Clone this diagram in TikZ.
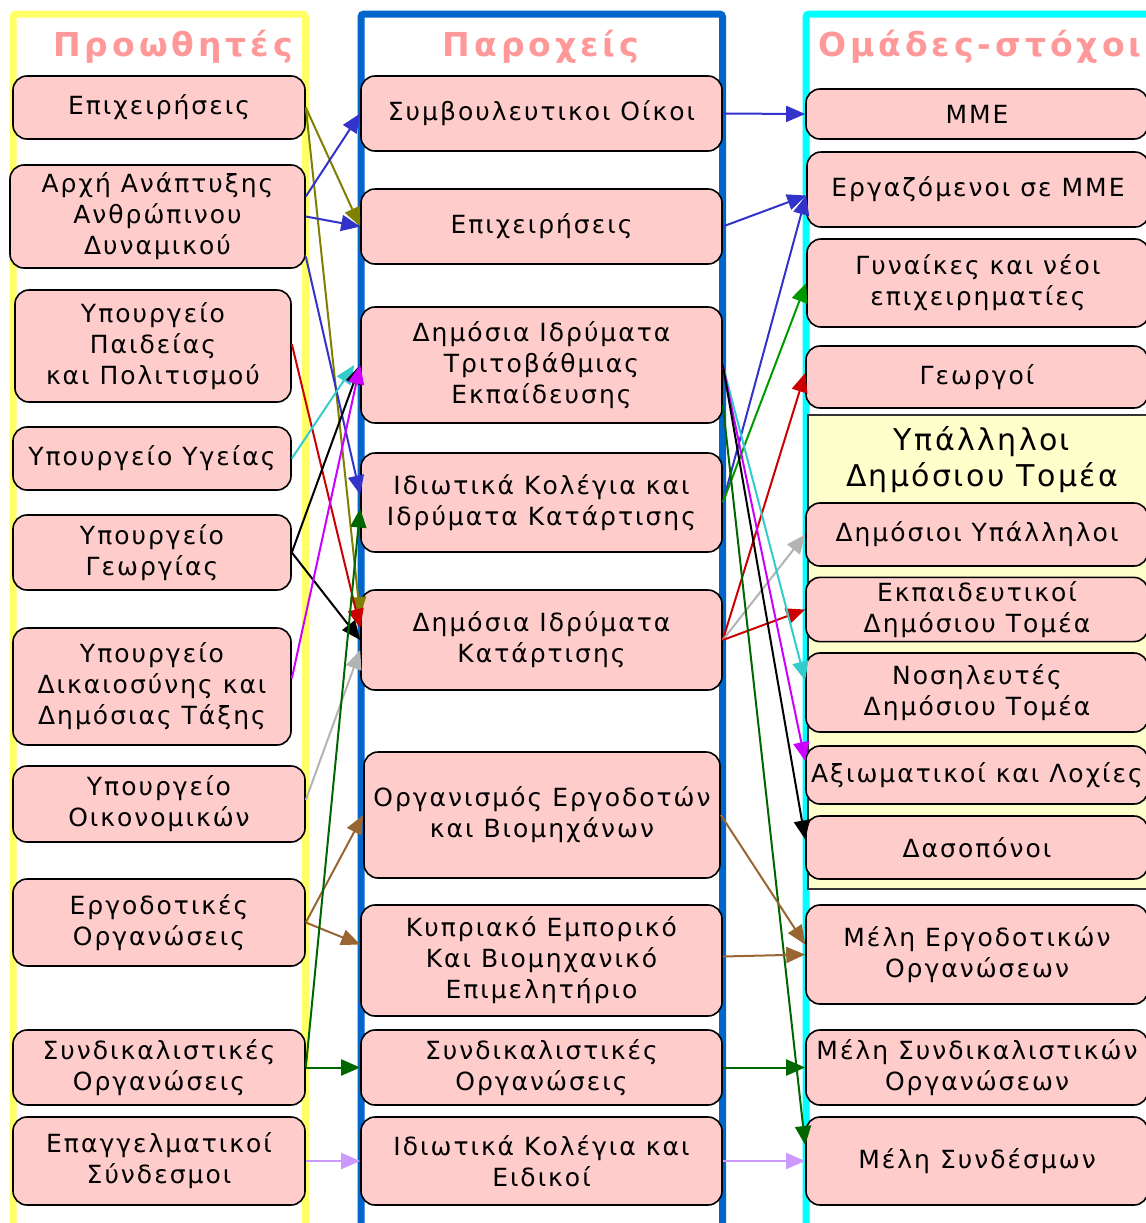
\documentclass[tikz,border=0pt]{standalone}
\usepackage{fontspec}
\setmainfont{DejaVu Sans}[LetterSpace=8]
\newfontfamily\titlefont{DejaVu Sans}[LetterSpace=12]
\usetikzlibrary{arrows.meta, positioning}

\definecolor{boxpink}{HTML}{FFCCCC}
\definecolor{groupyellow}{HTML}{FFFFCC}
\definecolor{titlepink}{HTML}{FF9999}
\definecolor{frameyellow}{HTML}{FFFF66}
\definecolor{frameblue}{HTML}{0066CC}
\definecolor{framecyan}{HTML}{00FFFF}
\definecolor{arrowolive}{HTML}{808000}
\definecolor{arrowblue}{HTML}{3333CC}
\definecolor{arrowred}{HTML}{CC0000}
\definecolor{arrowcyan}{HTML}{33CCCC}
\definecolor{arrowmagenta}{HTML}{CC00FF}
\definecolor{arrowgray}{HTML}{B3B3B3}
\definecolor{arrowbrown}{HTML}{996633}
\definecolor{arrowdkgreen}{HTML}{006600}
\definecolor{arrowgreen}{HTML}{009900}
\definecolor{arrowlilac}{HTML}{CC99FF}

\begin{document}
\begin{tikzpicture} [x=0.5pt, y=-0.5pt,
            box/.style = {draw, fill=boxpink, rounded corners=7pt,
                line width=0.8pt, align=center, inner sep=2pt,
                font=\fontsize{12.5}{15.5}\selectfont},
            lbox/.style = {box, minimum width=146pt},
            mbox/.style = {box, minimum width=180.5pt},
            rbox/.style = {box, minimum width=171pt},
            coltitle/.style = {text=titlepink,
                font=\titlefont\bfseries\fontsize{16.5}{19}\selectfont},
            frame/.style = {line width=3.5pt, rounded corners=1.5pt}]

        \useasboundingbox (0,0) rectangle (1146,1223);
        \clip (0,0) rectangle (1146,1223);

        % Column frames
        \draw [frame, frameyellow] (13,14) rectangle (305.5,1260);
        \draw [frame, frameblue] (361,14) rectangle (722.5,1260);
        \draw [frame, framecyan] (806,14) rectangle (1180,1260);

        % Column titles
        \node (tleft) [coltitle] at (173,47) {Προωθητές};
        \node (tmid) [coltitle] at (541,47) {Παροχείς};
        \node (tright) [coltitle] at (980,47) {Ομάδες-στόχοι};

        % Promoters
        \node (l1) [lbox, minimum height=31.5pt] at (159,107.5) {Επιχειρήσεις};
        \node (l2) [lbox, minimum width=147.5pt, minimum height=51.5pt]
            at (157.5,216.5) {Αρχή Ανάπτυξης\\Ανθρώπινου\\Δυναμικού};
        \node (l3) [lbox, minimum width=138pt, minimum height=56pt]
            at (153,346) {Υπουργείο\\Παιδείας\\και Πολιτισμού};
        \node (l4) [lbox, minimum width=139pt, minimum height=31.5pt]
            at (152,458.5) {Υπουργείο Υγείας};
        \node (l5) [lbox, minimum width=139pt, minimum height=37.5pt]
            at (152,552.5) {Υπουργείο\\Γεωργίας};
        \node (l6) [lbox, minimum width=139pt, minimum height=58.5pt]
            at (152,686.5) {Υπουργείο\\Δικαιοσύνης και\\Δημόσιας Τάξης};
        \node (l7) [lbox, minimum height=38pt] at (159,804) {Υπουργείο\\Οικονομικών};
        \node (l8) [lbox, minimum height=43.5pt] at (159,922.5) {Εργοδοτικές\\Οργανώσεις};
        \node (l9) [lbox, minimum height=37.5pt] at (159,1067.5) {Συνδικαλιστικές\\Οργανώσεις};
        \node (l10) [lbox, minimum height=44pt] at (159,1161) {Επαγγελματικοί\\Σύνδεσμοι};

        % Providers
        \node (m1) [mbox, minimum height=37.5pt] at (541.5,113.5) {Συμβουλευτικοι Οίκοι};
        \node (m2) [mbox, minimum height=37.5pt] at (541.5,226.5) {Επιχειρήσεις};
        \node (m3) [mbox, minimum height=58pt]
            at (541.5,365) {Δημόσια Ιδρύματα\\Τριτοβάθμιας\\Εκπαίδευσης};
        \node (m4) [mbox, minimum height=49.5pt]
            at (541.5,502.5) {Ιδιωτικά Κολέγια και\\Ιδρύματα Κατάρτισης};
        \node (m5) [mbox, minimum height=50pt] at (541.5,640) {Δημόσια Ιδρύματα\\Κατάρτισης};
        \node (m6) [mbox, minimum width=178pt, minimum height=63pt]
            at (542,815) {Οργανισμός Εργοδοτών\\και Βιομηχάνων};
        \node (m7) [mbox, minimum height=55.5pt]
            at (541.5,960.5) {Κυπριακό Εμπορικό\\Και Βιομηχανικό\\Επιμελητήριο};
        \node (m8) [mbox, minimum height=37.5pt] at (541.5,1067.5) {Συνδικαλιστικές\\Οργανώσεις};
        \node (m9) [mbox, minimum height=44pt] at (541.5,1161) {Ιδιωτικά Κολέγια και\\Ειδικοί};

        % Target groups
        \node (r1) [rbox, minimum height=25pt] at (977,114) {ΜΜΕ};
        \node (r2) [rbox, minimum height=37.5pt] at (978,189.5) {Εργαζόμενοι σε ΜΜΕ};
        \node (r3) [rbox, minimum height=44pt] at (978,283) {Γυναίκες και νέοι\\επιχειρηματίες};
        \node (r4) [rbox, minimum height=31pt] at (977,377) {Γεωργοί};

        % Public sector group
        \draw [fill=groupyellow, draw=black!80, line width=0.8pt]
            (808,415) rectangle (1160,889);
        \node (pub) [align=center, font=\fontsize{15}{18}\selectfont]
            at (982,460) {Υπάλληλοι\\Δημόσιου Τομέα};
        \node (r5) [rbox, minimum height=31.5pt] at (977,534.5) {Δημόσιοι Υπάλληλοι};
        \node (r6) [rbox, minimum height=31.5pt] at (977,609.5) {Εκπαιδευτικοί\\Δημόσιου Τομέα};
        \node (r7) [rbox, minimum height=39.5pt] at (977,692.5) {Νοσηλευτές\\Δημόσιου Τομέα};
        \node (r8) [rbox, minimum height=29pt] at (977,775) {Αξιωματικοί και Λοχίες};
        \node (r9) [rbox, minimum height=31.5pt] at (977,847.5) {Δασοπόνοι};

        \node (r10) [rbox, minimum height=49.5pt] at (977,954.5) {Μέλη Εργοδοτικών\\Οργανώσεων};
        \node (r11) [rbox, minimum height=37.5pt] at (977,1067.5) {Μέλη Συνδικαλιστικών\\Οργανώσεων};
        \node (r12) [rbox, minimum height=44pt] at (977,1161) {Μέλη Συνδέσμων};

        % Arrows promoters -> providers
        \path [-{Triangle[length=9.5pt, width=8pt]}, line width=1pt]
            (l1.east) edge [arrowolive] (m2.west)
            (l1.east) edge [arrowolive] ([yshift=12pt]m5.west)
            ([yshift=10pt]l2.east) edge [arrowblue] (m1.west)
            (l2.east) edge [arrowblue] (m2.west)
            ([yshift=-20pt]l2.east) edge [arrowblue] ([yshift=4pt]m4.west)
            ([yshift=1pt]l3.east) edge [arrowred] ([yshift=6pt]m5.west)
            (l4.east) edge [arrowcyan] ([xshift=-3pt]m3.west)
            (l5.east) edge [black] (m3.west)
            (l5.east) edge [black] (m5.west)
            ([yshift=4pt]l6.east) edge [arrowmagenta] (m3.west)
            ([yshift=2pt]l7.east) edge [arrowgray] ([yshift=-5pt]m5.west)
            (l8.east) edge [arrowbrown] (m6.west)
            (l8.east) edge [arrowbrown] ([yshift=8pt]m7.west)
            (l9.east) edge [arrowdkgreen] ([yshift=-3pt]m4.west)
            (l9.east) edge [arrowdkgreen] (m8.west)
            (l10.east) edge [arrowlilac] (m9.west)
            ;

        % Arrows providers -> target groups
        \path [-{Triangle[length=9.5pt, width=8pt]}, line width=1pt]
            (m1.east) edge [arrowblue] (r1.west)
            (m2.east) edge [arrowblue] ([yshift=-3pt]r2.west)
            (m4.east) edge [arrowblue] ([yshift=-3pt]r2.west)
            (m4.east) edge [arrowgreen] (r3.west)
            (m5.east) edge [arrowred] ([yshift=2pt]r4.west)
            (m5.east) edge [arrowgray] (r5.west)
            (m5.east) edge [arrowred] (r6.west)
            (m3.east) edge [arrowcyan] ([yshift=6pt]r7.west)
            (m3.east) edge [arrowmagenta] ([yshift=7pt]r8.west)
            (m3.east) edge [black] ([yshift=4pt]r9.west)
            ([yshift=-20pt]m3.east) edge [arrowdkgreen] ([yshift=8pt]r12.west)
            (m6.east) edge [arrowbrown] ([yshift=5pt]r10.west)
            ([yshift=2pt]m7.east) edge [arrowbrown] (r10.west)
            (m8.east) edge [arrowdkgreen] (r11.west)
            (m9.east) edge [arrowlilac] (r12.west)
            ;
\end{tikzpicture}
\end{document}
